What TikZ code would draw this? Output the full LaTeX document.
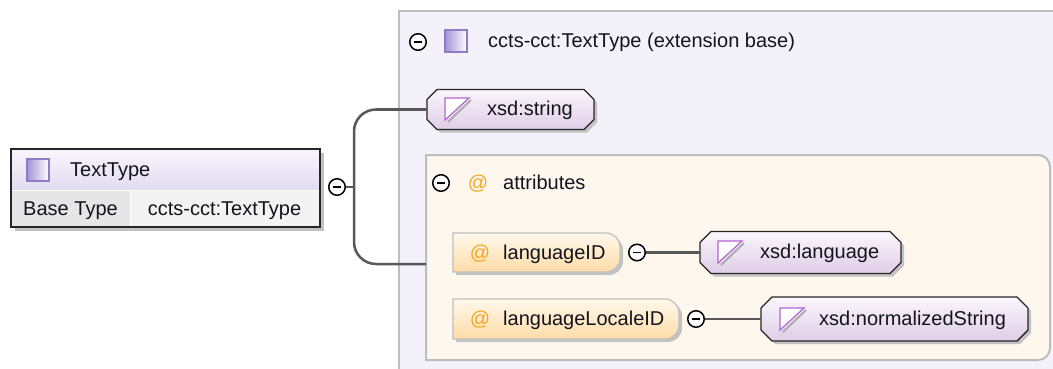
\documentclass[tikz,border=0pt]{standalone}
\usepackage{fontspec}
\setmainfont{Liberation Sans}
\newcommand\dgmfont{\fontsize{20}{24}\selectfont}
\definecolor{outerbg}{HTML}{F3F1F9}
\definecolor{attrbg}{HTML}{FDF7EE}
\definecolor{bordg}{HTML}{BDBDBD}
\definecolor{connc}{HTML}{585858}
\definecolor{txtc}{HTML}{14141E}
\definecolor{atc}{HTML}{F5A623}
\definecolor{shadc}{HTML}{C2C2C2}
\definecolor{purtop}{HTML}{FBF6FC}
\definecolor{purbot}{HTML}{DFCDE6}
\definecolor{ortop}{HTML}{FFF8EC}
\definecolor{orbot}{HTML}{FFDCA6}
\definecolor{icb}{HTML}{8F7BC6}
\definecolor{icl}{HTML}{A393D6}
\definecolor{tri}{HTML}{B266D6}
\definecolor{ttop}{HTML}{F8F6FC}
\definecolor{tbot}{HTML}{E2DBF1}
\definecolor{cellA}{HTML}{E6E6E6}
\definecolor{cellB}{HTML}{F3F3F3}
% chamfered outline of a node
\newcommand\chamf[2]{([xshift=#2]#1.north west) -- ([xshift=-#2]#1.north east) -- ([yshift=-#2]#1.north east) -- ([yshift=#2]#1.south east) -- ([xshift=-#2]#1.south east) -- ([xshift=#2]#1.south west) -- ([yshift=#2]#1.south west) -- ([yshift=-#2]#1.north west) -- cycle}
% outline with rounded right corners
\newcommand\rpath[2]{(#1.north west) -- ([xshift=-#2]#1.north east) arc[start angle=90,end angle=0,radius=#2] -- ([yshift=#2]#1.south east) arc[start angle=0,end angle=-90,radius=#2] -- (#1.south west) -- cycle}
\newcommand\triicon[2]{%
  \draw[gray!65, line width=2pt] (#1+26,#2+2) -- (#1+3,#2+24);
  \filldraw[fill=white, draw=tri, line width=1.2pt] (#1,#2) -- (#1+24,#2) -- (#1,#2+22) -- cycle;}
\begin{document}
\begin{tikzpicture}[x=1pt,y=-1pt,
  anchorbox/.style={rectangle, inner sep=0pt, outer sep=0pt},
  lbl/.style={font=\dgmfont, text=txtc, inner sep=0pt, anchor=base west},
  atl/.style={font=\dgmfont, text=atc, inner sep=0pt, anchor=base},
  minus/.style={circle, draw=black, line width=1.5pt, fill=white, minimum size=16.5pt, inner sep=0pt,
    path picture={\draw[line width=1.5pt] ([xshift=-4pt]path picture bounding box.center) -- ([xshift=4pt]path picture bounding box.center);}},
  conn/.style={draw=connc, line width=2.5pt},
  shadowfill/.style={fill=shadc, transform canvas={xshift=3pt,yshift=-3pt}},
  purfill/.style={top color=purtop, bottom color=purbot, draw=black!85, line width=1.4pt},
  orfill/.style={top color=ortop, bottom color=orbot, draw=black!25, line width=1.2pt},
  sqicon/.style={rectangle, minimum size=22pt, inner sep=0pt, draw=icb, line width=1.3pt, left color=icl, right color=white},
]
\useasboundingbox (0,0) rectangle (1053,369);
\clip (0,0) rectangle (1053,369);
\fill[white] (0,0) rectangle (1053,369);

% ---- extension container
\node[anchorbox, fill=outerbg, draw=bordg, line width=2.2pt, minimum width=680pt, minimum height=400pt] (ext) at (739,211) {};
\shade[left color=outerbg, middle color=black!22, right color=outerbg] (403,65.5) rectangle (905,68);
\node[minus] (mh) at (418,42) {};
\node[sqicon] (ih) at (456,41) {};
\node[lbl] (th) at (488,48) {ccts-cct:TextType (extension base)};

% ---- xsd:string
\node[anchorbox, minimum width=167pt, minimum height=40pt] (str) at (510.5,109.5) {};
\fill[shadowfill] \chamf{str}{10pt};
\path[purfill] \chamf{str}{10pt};
\triicon{445}{98}
\node[lbl] (tstr) at (487,116) {xsd:string};

% ---- attributes container
\node[anchorbox, minimum width=624pt, minimum height=205pt] (attr) at (738,257.5) {};
\path[fill=attrbg, draw=bordg, line width=2pt] \rpath{attr}{12pt};
\shade[left color=attrbg, middle color=black!20, right color=attrbg] (430,207) rectangle (800,209.5);
\node[minus] (ma) at (441,183) {};
\node[atl] (aa) at (478,189) {@};
\node[lbl] (tatt) at (503,189) {attributes};

% ---- languageID row
\node[anchorbox, minimum width=167pt, minimum height=39pt] (lid) at (536.5,252.5) {};
\fill[shadowfill] \rpath{lid}{14pt};
\path[orfill] \rpath{lid}{14pt};
\node[atl] (a1) at (480,259) {@};
\node[lbl] (tlid) at (503,259) {languageID};
\node[minus] (m1) at (637,252.5) {};
\node[anchorbox, minimum width=201pt, minimum height=42pt] (lang) at (800.5,252.5) {};
\fill[shadowfill] \chamf{lang}{11pt};
\path[purfill] \chamf{lang}{11pt};
\triicon{718}{241}
\node[lbl] (tlang) at (760,258.5) {xsd:language};
\draw[conn] (m1.east) -- (lang.west);

% ---- languageLocaleID row
\node[anchorbox, minimum width=226pt, minimum height=40pt] (llid) at (566,319) {};
\fill[shadowfill] \rpath{llid}{14pt};
\path[orfill] \rpath{llid}{14pt};
\node[atl] (a2) at (480,325.5) {@};
\node[lbl] (tllid) at (503,325.5) {languageLocaleID};
\node[minus] (m2) at (696,319) {};
\node[anchorbox, minimum width=267pt, minimum height=44pt] (norm) at (894.5,319) {};
\fill[shadowfill] \chamf{norm}{11pt};
\path[purfill] \chamf{norm}{11pt};
\triicon{780}{308}
\node[lbl] (tnorm) at (819,325.5) {xsd:normalizedString};
\draw[conn] (m2.east) -- (norm.west);

% ---- TextType box
\node[anchorbox, minimum width=309pt, minimum height=78pt] (tt) at (165.5,188) {};
\fill[shadc, transform canvas={xshift=4pt,yshift=-4pt}] (tt.north west) rectangle (tt.south east);
\shade[top color=ttop, bottom color=tbot] (tt.north west) rectangle ([yshift=37pt]tt.south east);
\fill[cellA] ([yshift=37pt]tt.south west) rectangle ([xshift=119pt]tt.south west);
\fill[cellB] ([xshift=119pt,yshift=37pt]tt.south west) rectangle (tt.south east);
\draw[white, line width=1pt] ([yshift=37pt]tt.south west) -- ([yshift=37pt]tt.south east);
\draw[white, line width=1pt] ([xshift=119pt,yshift=37pt]tt.south west) -- ([xshift=119pt]tt.south west);
\draw[black!85, line width=2pt] (tt.north west) rectangle (tt.south east);
\node[sqicon] (it) at (38,170) {};
\node[lbl] (ttt) at (70,176.5) {TextType};
\node[lbl, anchor=base] (tb) at (70.5,215) {Base Type};
\node[lbl, anchor=base] (tv) at (224.5,215) {ccts-cct:TextType};

% ---- main connector
\coordinate (jt) at (354,187);
\draw[conn, rounded corners=22pt] (str.west) -| (jt) |- ([yshift=-6.5pt]attr.west);
\node[minus] (m0) at (337,187) {};
\draw[conn] (m0.east) -- (jt);
\end{tikzpicture}
\end{document}
